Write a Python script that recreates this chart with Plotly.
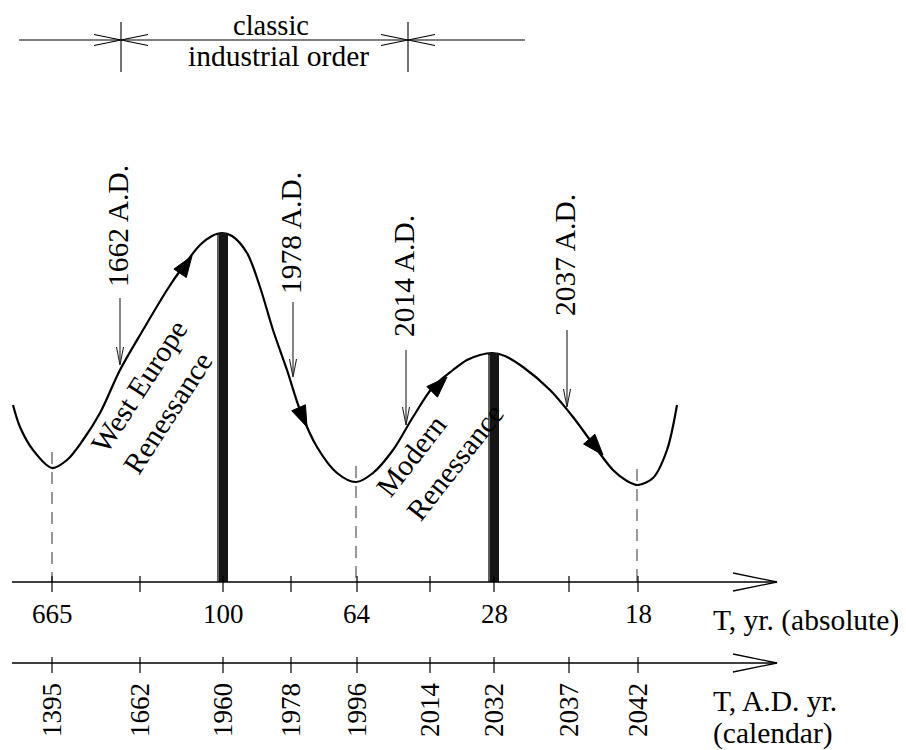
import math
import plotly.graph_objects as go

# ---------------- data ----------------
cal_years = ["1395", "1662", "1960", "1978", "1996", "2014", "2032", "2037", "2042"]
tick_pos = [52, 140, 223, 291, 357, 430, 494, 569, 638]
abs_labels = ["665", "100", "64", "28", "18"]
abs_idx = [0, 2, 4, 6, 8]

# wave (diagram units)
curve_x = [13, 20, 33, 52, 67, 83, 100, 120, 143, 167, 182, 200, 212, 222, 232, 247, 260,
           273, 287, 300, 317, 337, 356, 373, 393, 413, 433, 453, 467, 480, 492, 505, 523,
           550, 573, 590, 613, 627, 638, 653, 667, 677]
curve_y = [405, 427, 450, 468, 460, 440, 413, 370, 330, 290, 268, 245, 236, 233, 236, 253, 287,
           330, 370, 410, 447, 473, 482, 473, 450, 417, 387, 370, 360, 355, 353, 356, 367,
           390, 417, 440, 470, 481, 485, 478, 450, 405]

# peaks (thick bars) and troughs (dashed lines)
peak_idx = [2, 6]
peak_top = [233, 353]
trough_x = [52, 356, 637]
trough_y = [468, 482, 485]

# event markers
event_labels = ["1662 A.D.", "1978 A.D.", "2014 A.D.", "2037 A.D."]
event_x = [120, 293, 406, 567]
event_top = [298, 302, 350, 330]
event_tip = [365, 377, 425, 407]
event_text_y = [226, 233, 276, 255]

# flow arrows on the wave
flow_tip_x = [192, 307, 447, 603]
flow_tip_y = [256, 427, 377, 455]
flow_tail_x = [181, 300, 435, 590]
flow_tail_y = [272, 411, 389, 440]

# ---------------- layout constants ----------------
FONT = "Liberation Serif"
FS_NUM = 27
FS_TXT = 29.5
Y_ABS = 582
Y_CAL = 663
AX_L, AX_R = 12, 777
OFF = 8  # page body margin

fig = go.Figure()

def seg_trace(xs, ys, width=1.2, color="black", dash=None):
    fig.add_trace(go.Scatter(x=xs, y=ys, mode="lines",
                             line=dict(color=color, width=width, dash=dash),
                             hoverinfo="skip", showlegend=False))

# wave
fig.add_trace(go.Scatter(x=curve_x, y=curve_y, mode="lines",
                         line=dict(color="black", width=2.2, shape="spline", smoothing=0.9),
                         hoverinfo="skip", showlegend=False))

# thick bars at peaks
for i, top in zip(peak_idx, peak_top):
    xc = tick_pos[i] - 0.5
    seg_trace([xc, xc], [top, Y_ABS], width=11, color="#151515")
    seg_trace([xc - 4.5, xc - 4.5], [top + 2, Y_ABS], width=1.5, color="#777777")

# dashed lines at troughs
for tx, ty in zip(trough_x, trough_y):
    seg_trace([tx, tx], [ty - 16, Y_ABS], width=1, color="#333333", dash="12px,8px")

# the two time axes with ticks and open arrowheads
for ya in (Y_ABS, Y_CAL):
    seg_trace([AX_L, AX_R], [ya, ya], width=1.3)
    seg_trace([733, AX_R, 733], [ya - 9, ya, ya + 9], width=1.3)
    tx, ty = [], []
    for p in tick_pos:
        tx += [p, p, None]
        ty += [ya - 6, ya + 10, None]
    seg_trace(tx, ty, width=1.2)

# event arrows (thin, open heads)
for x, t0, t1 in zip(event_x, event_top, event_tip):
    seg_trace([x, x], [t0, t1], width=1.1, color="#222222")
    seg_trace([x - 3.5, x, x + 3.5], [t1 - 18, t1, t1 - 18], width=1.1, color="#222222")

# flow arrowheads (filled triangles)
for hx, hy, bx, by in zip(flow_tip_x, flow_tip_y, flow_tail_x, flow_tail_y):
    dx, dy = hx - bx, hy - by
    n = math.hypot(dx, dy)
    ux, uy = dx / n, dy / n
    L, W = 21, 7.5
    cx, cy = hx - L * ux, hy - L * uy
    fig.add_trace(go.Scatter(x=[hx, cx - W * uy, cx + W * uy, hx],
                             y=[hy, cy + W * ux, cy - W * ux, hy],
                             mode="lines", fill="toself", fillcolor="black",
                             line=dict(color="black", width=1),
                             hoverinfo="skip", showlegend=False))

# top dimension bracket: classic industrial order
BR_Y = 40
seg_trace([19, 525], [BR_Y, BR_Y], width=1.1)
for v in (tick_pos[1] - 19, tick_pos[5] - 22):
    seg_trace([v, v], [22, 72], width=1.1)
    seg_trace([v - 27, v, v - 27], [BR_Y - 5.5, BR_Y, BR_Y + 5.5], width=1.1)
    seg_trace([v + 27, v, v + 27], [BR_Y - 5.5, BR_Y, BR_Y + 5.5], width=1.1)

ann = []
def txt(x, y, s, angle=0, xanchor="center", align="center", size=FS_TXT, pad=1):
    ann.append(dict(x=x, y=y, xref="x", yref="y", text=s, showarrow=False,
                    textangle=angle, xanchor=xanchor, yanchor="middle", align=align,
                    borderpad=pad,
                    font=dict(family=FONT, size=size, color="black")))

for lab, i in zip(abs_labels, abs_idx):
    txt(tick_pos[i], 614, lab, size=FS_NUM)
for lab, p in zip(cal_years, tick_pos):
    txt(p, 710, lab, angle=-90, size=FS_NUM)
txt(711, 620, "T, yr. (absolute)", xanchor="left")
txt(711, 701, "T, A.D. yr.", xanchor="left")
txt(711, 733, "(calendar)", xanchor="left")

for lab, x, y in zip(event_labels, event_x, event_text_y):
    txt(x - 2, y, lab, angle=-90)

txt(155, 397, "West Europe<br>Renessance", angle=-57, align="left")
txt(440, 450, "Modern<br>Renessance", angle=-52, align="left")

txt(271, 25, "classic", size=28.5, pad=0)
txt(278, 56, "industrial order")

fig.update_layout(
    width=906 - OFF, height=750 - OFF,
    margin=dict(l=0, r=0, t=0, b=0),
    paper_bgcolor="white", plot_bgcolor="white",
    showlegend=False,
    xaxis=dict(range=[OFF, 906], visible=False, fixedrange=True),
    yaxis=dict(range=[750, OFF], visible=False, fixedrange=True),
    annotations=ann,
)

fig.write_html("out.html")
